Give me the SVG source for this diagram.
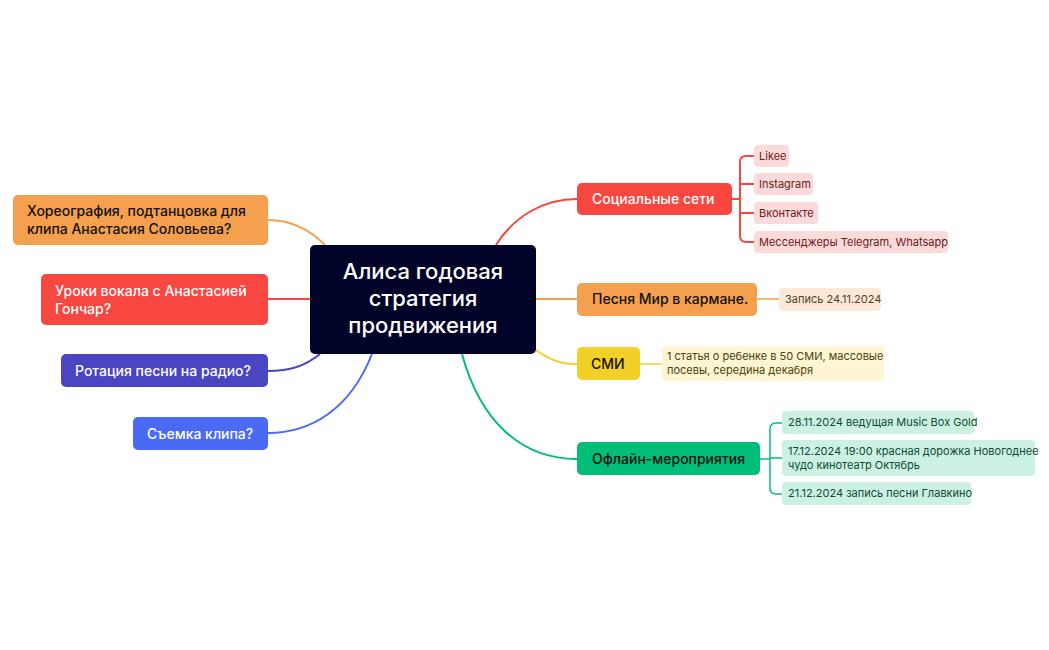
<svg xmlns="http://www.w3.org/2000/svg" width="1049" height="650" viewBox="0 0 1049 650">
<style>
text{font-family:Inter,"Noto Sans",sans-serif}
.m{font-size:14px;font-weight:500}
.l{font-size:11px}
.c{fill:none;stroke-width:2}
</style>
<rect width="1049" height="650" fill="#fff"/>
<g id="connectors">
<path class="c" stroke="#F84640" d="M496 245 C515 215 545 199 577 199"/>
<path class="c" stroke="#F5A04E" d="M536 299 H577"/>
<path class="c" stroke="#F2D027" d="M536 350 C550 360 560 364 577 364"/>
<path class="c" stroke="#00BE78" d="M462 354 C480 420 520 459 577 459"/>
<path class="c" stroke="#F5A04E" d="M325 245 C310 230 290 220 268 220"/>
<path class="c" stroke="#F84640" d="M310 299 H268"/>
<path class="c" stroke="#4A45C0" d="M320 354 C305 366 290 371 268 371"/>
<path class="c" stroke="#4A6AF5" d="M372 354 C350 410 310 433 268 433"/>
<g stroke="#F84640" class="c" fill="none" stroke-width="1.5">
<path d="M732 199 H740"/>
<path d="M754 156 H746 Q740 156 740 162 V236 Q740 242 746 242 H754"/>
<path d="M740 184 H754 M740 213 H754"/>
</g>
<path d="M757 299 H779" stroke="#F5A04E" stroke-width="1.5"/>
<path d="M640 364 H662" stroke="#F2D027" stroke-width="1.5"/>
<g stroke="#00BE78" fill="none" stroke-width="1.5">
<path d="M760 459 H770"/>
<path d="M782 423 H776 Q770 423 770 429 V488 Q770 494 776 494 H782"/>
<path d="M770 458 H782"/>
</g>
</g>
<g id="center"><rect x="310" y="245" width="226" height="109" rx="5" fill="#020328"/>
<text x="423" y="279" font-size="22" font-weight="500" fill="#fff" text-anchor="middle">Алиса годовая</text>
<text x="423" y="306" font-size="22" font-weight="500" fill="#fff" text-anchor="middle">стратегия</text>
<text x="423" y="333" font-size="22" font-weight="500" fill="#fff" text-anchor="middle">продвижения</text></g>
<g id="n1"><rect x="13" y="195" width="255" height="50" rx="5" fill="#F5A04E"/><text class="m" x="27" y="216" fill="#111">Хореография, подтанцовка для</text><text class="m" x="27" y="234" fill="#111">клипа Анастасия Соловьева?</text></g>
<g id="n2"><rect x="41" y="274" width="227" height="51" rx="5" fill="#F84640"/><text class="m" x="55" y="296" fill="#fff">Уроки вокала с Анастасией</text><text class="m" x="55" y="314" fill="#fff">Гончар?</text></g>
<g id="n3"><rect x="61" y="354" width="207" height="33" rx="5" fill="#4A45C0"/><text class="m" x="75" y="376" fill="#fff">Ротация песни на радио?</text></g>
<g id="n4"><rect x="133" y="417" width="135" height="33" rx="5" fill="#4A6AF5"/><text class="m" x="147" y="439" fill="#fff">Съемка клипа?</text></g>
<g id="n5"><rect x="577" y="183" width="155" height="32" rx="5" fill="#F84640"/><text class="m" x="592" y="204" fill="#fff">Социальные сети</text></g>
<g id="n6"><rect x="577" y="283" width="180" height="33" rx="5" fill="#F5A04E"/><text class="m" x="592" y="304" fill="#111">Песня Мир в кармане.</text></g>
<g id="n7"><rect x="577" y="347" width="63" height="33" rx="5" fill="#F2D027"/><text class="m" x="591" y="369" fill="#111">СМИ</text></g>
<g id="n8"><rect x="577" y="442" width="183" height="33" rx="5" fill="#00BE78"/><text class="m" x="592" y="464" fill="#111">Офлайн-мероприятия</text></g>
<g id="l1" fill="#FDDADA"><rect x="754" y="145" width="35" height="22" rx="4"/><rect x="754" y="173" width="59" height="22" rx="4"/><rect x="754" y="202" width="64" height="22" rx="4"/><rect x="754" y="231" width="194" height="22" rx="4"/></g>
<g fill="#6B1A1A" class="l"><text class="l" x="759" y="160">Likee</text><text class="l" x="759" y="188">Instagram</text><text class="l" x="759" y="217">Вконтакте</text><text class="l" x="759" y="246">Мессенджеры Telegram, Whatsapp</text></g>
<g id="l2"><rect x="779" y="288" width="102" height="23" rx="4" fill="#FCE9D9"/><text class="l" x="785" y="303" fill="#5A3A1F">Запись 24.11.2024</text></g>
<g id="l3"><rect x="662" y="346" width="222" height="35" rx="4" fill="#FEF6D2"/><text class="l" x="667" y="360" fill="#4A3F10">1 статья о ребенке в 50 СМИ, массовые</text><text class="l" x="667" y="374" fill="#4A3F10">посевы, середина декабря</text></g>
<g id="l4" fill="#CCF1E3"><rect x="782" y="411" width="192" height="23" rx="4"/><rect x="782" y="440" width="253" height="36" rx="4"/><rect x="782" y="482" width="189" height="23" rx="4"/></g>
<g fill="#0D4A34"><text class="l" x="788" y="426">28.11.2024 ведущая Music Box Gold</text><text class="l" x="788" y="455">17.12.2024 19:00 красная дорожка Новогоднее</text><text class="l" x="788" y="469">чудо кинотеатр Октябрь</text><text class="l" x="788" y="497">21.12.2024 запись песни Главкино</text></g>
</svg>
